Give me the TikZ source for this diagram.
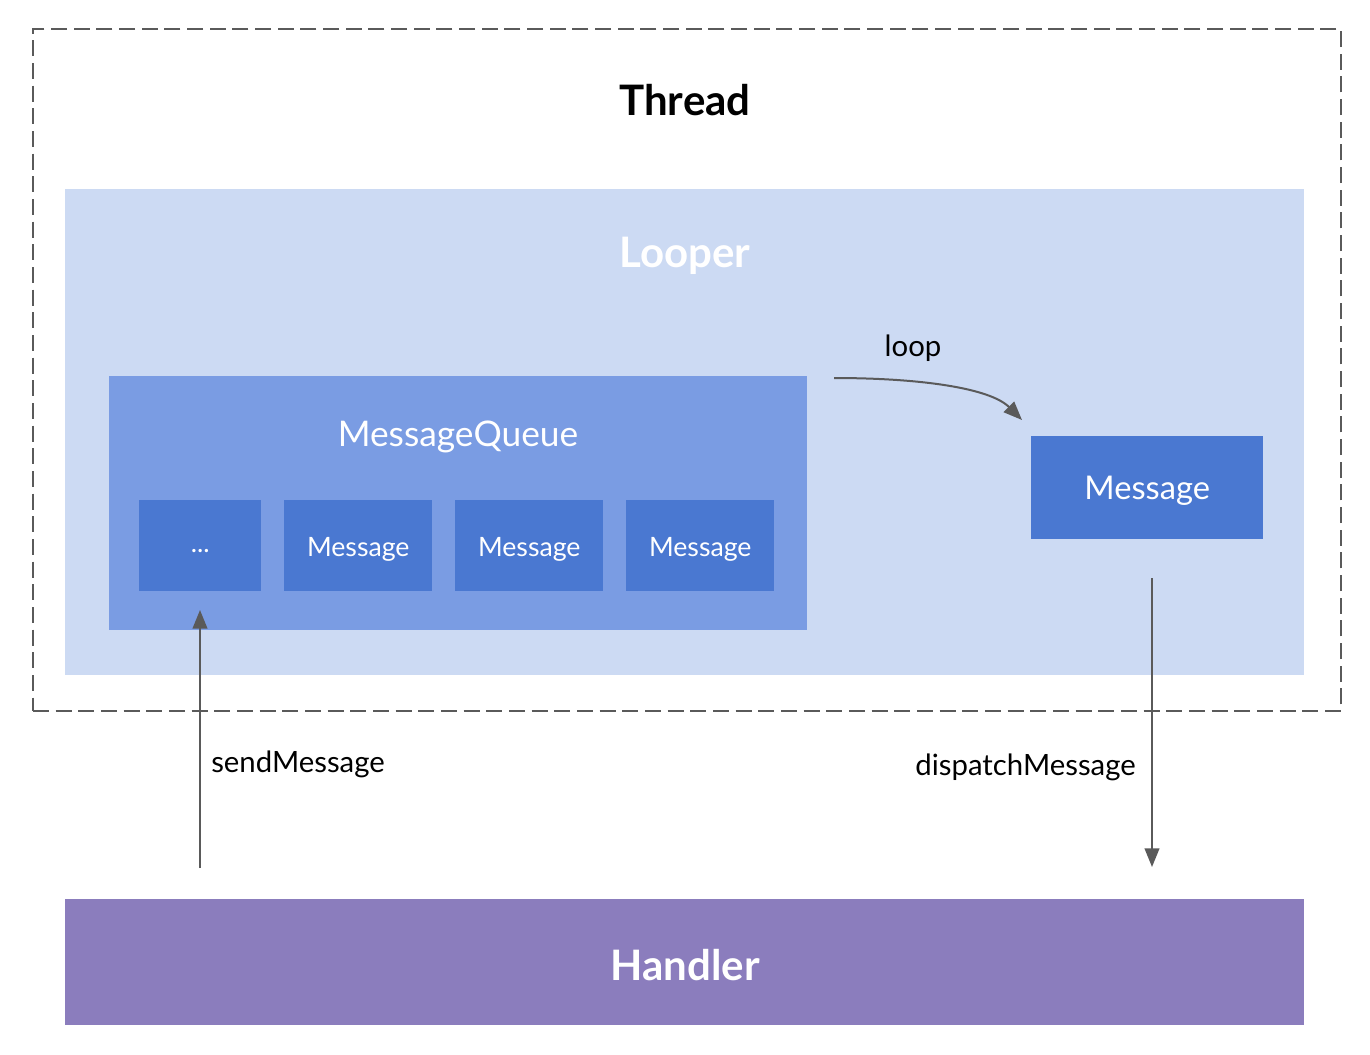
\documentclass[tikz,border=0pt]{standalone}
\usepackage{fontspec}
\setmainfont{Lato}
\usetikzlibrary{arrows.meta}
\definecolor{looperbg}{HTML}{CCDAF3}
\definecolor{queuebg}{HTML}{7A9CE3}
\definecolor{msgbg}{HTML}{4A78D1}
\definecolor{handlerbg}{HTML}{8B7DBD}
\definecolor{linegray}{HTML}{5A5A5A}
\tikzset{
  px/.style={x=0.75pt,y=-0.75pt},
  boxarea/.style={draw=none,inner sep=0pt,anchor=north west},
  smallmsg/.style={boxarea,fill=msgbg,minimum width=111pt,minimum height=68.25pt},
  smalltxt/.style={text=white,font=\fontsize{20}{24}\selectfont,inner sep=0pt},
  conn/.style={draw=linegray,line width=1.5pt,-{Triangle[length=14pt,width=11pt]}},
  lbl/.style={font=\fontsize{22}{26}\selectfont,text=black,inner sep=0pt},
  title/.style={font=\bfseries\fontsize{31.5}{36}\selectfont},
}
\begin{document}
\begin{tikzpicture}[px]
\useasboundingbox[fill=white] (0,0) rectangle (1370,1054);
% thread
\node[boxarea,draw=linegray,line width=1.5pt,dash pattern=on 12pt off 5pt,minimum width=981pt,minimum height=511.5pt] (thread) at (32,28) {};
\node[title] (threadlbl) at (685,100) {Thread};
% looper
\node[boxarea,fill=looperbg,minimum width=929.25pt,minimum height=364.5pt] (looper) at (65,189) {};
\node[title,text=white] (looperlbl) at (685,256) {Looper};
% queue
\node[boxarea,fill=queuebg,minimum width=523.5pt,minimum height=190.5pt] (queue) at (109,376) {};
\node[font=\fontsize{26.5}{30}\selectfont,text=white] (queuelbl) at (458,437) {MessageQueue};
\node[smallmsg,minimum width=91.5pt] (dots) at (139,500) {};
\node[smallmsg] (m1) at (284,500) {};
\node[smallmsg] (m2) at (455,500) {};
\node[smallmsg] (m3) at (626,500) {};
\node[smalltxt] (dotst) at ([yshift=-4pt]dots.center) {...};
\node[smalltxt] (m1t) at ([yshift=-2.5pt]m1.center) {Message};
\node[smalltxt] (m2t) at ([yshift=-2.5pt]m2.center) {Message};
\node[smalltxt] (m3t) at ([yshift=-2.5pt]m3.center) {Message};
% big message
\node[boxarea,fill=msgbg,minimum width=174pt,minimum height=77.25pt] (msg) at (1031,436) {};
\node[text=white,font=\fontsize{24.5}{28}\selectfont,inner sep=0pt] (msgt) at ([yshift=-2.5pt]msg.center) {Message};
% handler
\node[boxarea,fill=handlerbg,minimum width=929.25pt,minimum height=94.5pt] (handler) at (65,899) {};
\node[title,text=white] (handlerlbl) at (685,965) {Handler};
% loop arrow
\coordinate (loopstart) at (834,378);
\coordinate (loopend) at (1022,420);
\draw[conn] (loopstart) .. controls (920,378) and (990,388) .. (loopend);
\node[lbl] (looplbl) at (913,348) {loop};
% send
\coordinate (sendstart) at (200,868);
\coordinate (sendend) at (200,610);
\draw[conn] (sendstart) -- (sendend);
\node[lbl,anchor=west] (sendlbl) at (211,764) {sendMessage};
% dispatch
\coordinate (dispstart) at (1152,578);
\coordinate (dispend) at (1152,867);
\draw[conn] (dispstart) -- (dispend);
\node[lbl,anchor=east] (displbl) at (1136,767) {dispatchMessage};
\end{tikzpicture}
\end{document}
